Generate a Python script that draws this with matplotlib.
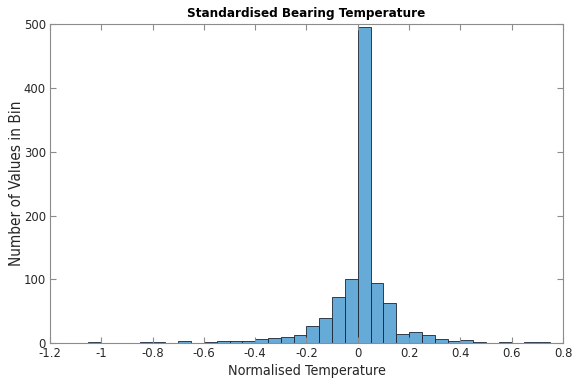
import matplotlib

matplotlib.use("Agg")
import matplotlib.pyplot as plt
from matplotlib import font_manager as fm
import numpy as np

# histogram bins (width 0.05) and counts
bin_lo = -1.05
bin_width = 0.05
counts = [
    1, 0, 0, 0, 1, 2, 0, 4, 0, 1,            # -1.05 .. -0.55
    3, 3, 4, 7, 8, 9, 12, 27, 40, 73,        # -0.55 .. -0.05
    101, 495, 94, 63, 15, 17, 12, 7, 4, 5,   # -0.05 .. 0.45
    1, 0, 1, 0, 1, 1,                        # 0.45 .. 0.75
]
xticks = [-1.2, -1.0, -0.8, -0.6, -0.4, -0.2, 0.0, 0.2, 0.4, 0.6, 0.8]
xticklabels = ["-1.2", "-1", "-0.8", "-0.6", "-0.4", "-0.2", "0", "0.2", "0.4", "0.6", "0.8"]
yticks = [0, 100, 200, 300, 400, 500]

# the reference is horizontally squeezed, so text looks narrow: use a condensed face
names = {f.name for f in fm.fontManager.ttflist}
stretch = "normal"
if "Liberation Sans Narrow" in names:
    family = ["Liberation Sans Narrow", "DejaVu Sans"]
elif any(f.name == "DejaVu Sans" and f.stretch == "condensed" for f in fm.fontManager.ttflist):
    family = ["DejaVu Sans"]
    stretch = "condensed"
else:
    family = ["Liberation Sans", "DejaVu Sans"]
plt.rcParams["font.family"] = family
plt.rcParams["font.stretch"] = stretch

edges = bin_lo + bin_width * np.arange(len(counts) + 1)

fig = plt.figure(figsize=(5.78, 3.89), dpi=100)
ax = fig.add_axes([0.0865, 0.118, 0.8875, 0.820])
ax.bar(edges[:-1], counts, width=bin_width, align="edge",
       color="#66aad7", edgecolor="#1a2433", linewidth=0.6)

ax.set_xlim(-1.2, 0.8)
ax.set_ylim(0, 500)
ax.set_xticks(xticks)
ax.set_xticklabels(xticklabels)
ax.set_yticks(yticks)
for s in ax.spines.values():
    s.set_color("#8c8c8c")
    s.set_linewidth(0.8)
ax.tick_params(direction="in", length=4, color="#8c8c8c", labelsize=9.3,
               labelcolor="#262626", pad=3, top=True, right=True)
ax.set_xlabel("Normalised Temperature", fontsize=10.3, color="#262626", labelpad=3)
ax.set_ylabel("Number of Values in Bin", fontsize=11, color="#262626")
ax.yaxis.set_label_coords(-0.05, 0.5)
ax.set_title("Standardised Bearing Temperature", fontsize=9.6, fontweight="bold",
             color="#000000", pad=5)

fig.savefig("out.png", dpi=100, facecolor="white")
